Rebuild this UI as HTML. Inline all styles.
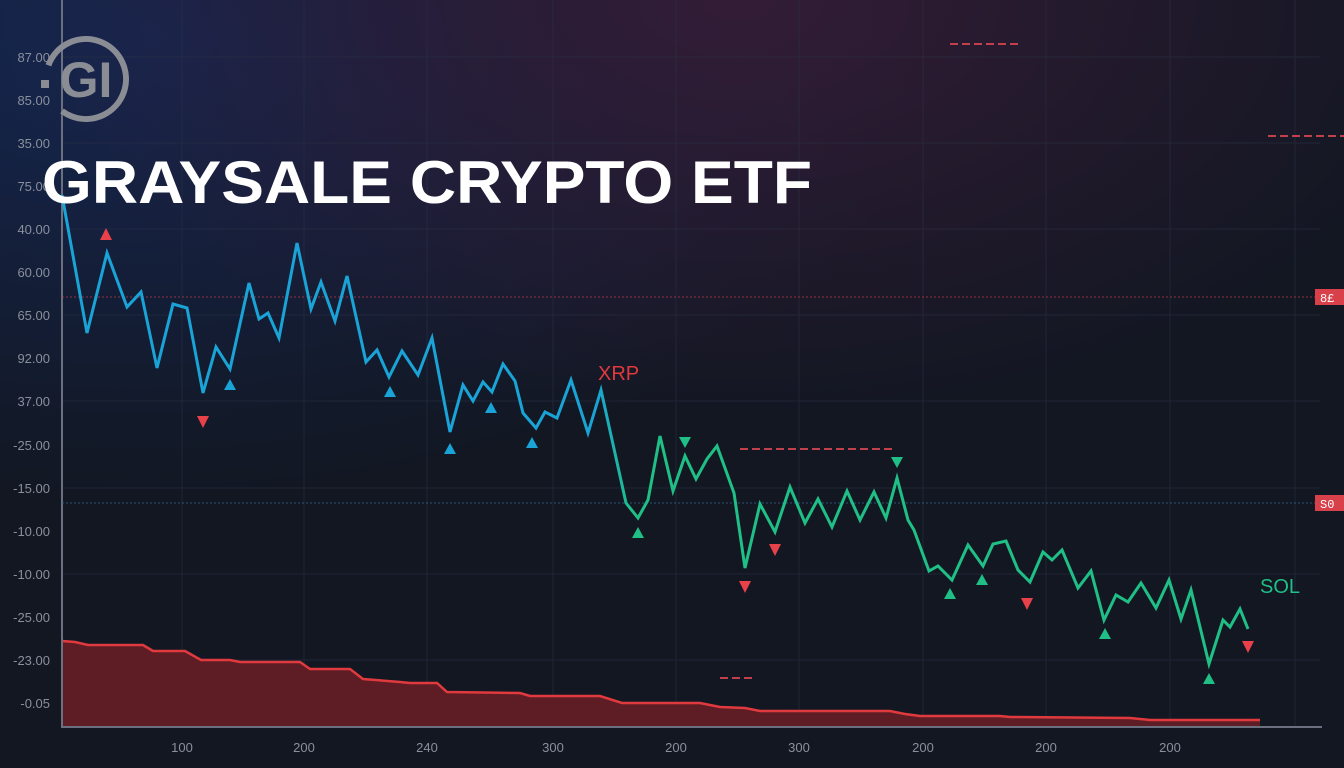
<!DOCTYPE html>
<html><head><meta charset="utf-8"><style>
html,body{margin:0;padding:0;width:1344px;height:768px;overflow:hidden;background:#121722}
svg{display:block}
</style></head><body>
<svg width="1344" height="768" viewBox="0 0 1344 768" xmlns="http://www.w3.org/2000/svg">
<defs>
<radialGradient id="g1" cx="0.1" cy="0.05" r="0.6"><stop offset="0" stop-color="#152650"/><stop offset="1" stop-color="#152650" stop-opacity="0"/></radialGradient>
<radialGradient id="g2" cx="0.55" cy="0.0" r="0.55"><stop offset="0" stop-color="#331c36"/><stop offset="1" stop-color="#331c36" stop-opacity="0"/></radialGradient>
<linearGradient id="bl" x1="0" y1="0" x2="1" y2="0"><stop offset="0.45" stop-color="#1aa3d6"/><stop offset="0.48" stop-color="#1fbf86"/></linearGradient>
</defs>
<rect width="1344" height="768" fill="#121722"/>
<rect width="1344" height="768" fill="url(#g1)"/>
<rect width="1344" height="768" fill="url(#g2)"/>
<g stroke="#2a3245" stroke-width="1" opacity="0.55">
<line x1="62" y1="57" x2="1320" y2="57"/><line x1="62" y1="143" x2="1320" y2="143"/><line x1="62" y1="229" x2="1320" y2="229"/><line x1="62" y1="315" x2="1320" y2="315"/><line x1="62" y1="401" x2="1320" y2="401"/><line x1="62" y1="488" x2="1320" y2="488"/><line x1="62" y1="574" x2="1320" y2="574"/><line x1="62" y1="660" x2="1320" y2="660"/>
<line x1="182" y1="0" x2="182" y2="727"/><line x1="304" y1="0" x2="304" y2="727"/><line x1="427" y1="0" x2="427" y2="727"/><line x1="553" y1="0" x2="553" y2="727"/><line x1="676" y1="0" x2="676" y2="727"/><line x1="799" y1="0" x2="799" y2="727"/><line x1="923" y1="0" x2="923" y2="727"/><line x1="1046" y1="0" x2="1046" y2="727"/><line x1="1170" y1="0" x2="1170" y2="727"/><line x1="1295" y1="0" x2="1295" y2="727"/>
</g>
<polygon fill="#5e1c24" points="62,727 62,641 75,642 88,645 143,645 153,651 185,651 201,660 230,660 240,662 300,662 310,669 350,669 363,679 400,682 410,683 437,683 447,692 520,693 530,696 600,696 622,703 700,703 720,707 745,708 760,711 890,711 905,714 920,716 1000,716 1010,717 1130,718 1150,720 1260,720 1260,727"/>
<polyline fill="none" stroke="#e03a3e" stroke-width="2.5" points="62,641 75,642 88,645 143,645 153,651 185,651 201,660 230,660 240,662 300,662 310,669 350,669 363,679 400,682 410,683 437,683 447,692 520,693 530,696 600,696 622,703 700,703 720,707 745,708 760,711 890,711 905,714 920,716 1000,716 1010,717 1130,718 1150,720 1260,720"/>
<g stroke="#6b7080" stroke-width="2"><line x1="62" y1="0" x2="62" y2="728"/><line x1="62" y1="727" x2="1322" y2="727"/></g>
<g font-family="Liberation Sans, sans-serif" font-size="13" fill="#8a8f9c" text-anchor="end">
<text x="50" y="62">87.00</text><text x="50" y="105">85.00</text><text x="50" y="148">35.00</text><text x="50" y="191">75.00</text><text x="50" y="234">40.00</text><text x="50" y="277">60.00</text><text x="50" y="320">65.00</text><text x="50" y="363">92.00</text><text x="50" y="406">37.00</text><text x="50" y="450">-25.00</text><text x="50" y="493">-15.00</text><text x="50" y="536">-10.00</text><text x="50" y="579">-10.00</text><text x="50" y="622">-25.00</text><text x="50" y="665">-23.00</text><text x="50" y="708">-0.05</text>
</g>
<g font-family="Liberation Sans, sans-serif" font-size="13" fill="#8a8f9c" text-anchor="middle">
<text x="182" y="752">100</text><text x="304" y="752">200</text><text x="427" y="752">240</text><text x="553" y="752">300</text><text x="676" y="752">200</text><text x="799" y="752">300</text><text x="923" y="752">200</text><text x="1046" y="752">200</text><text x="1170" y="752">200</text>
</g>
<line x1="62" y1="297" x2="1315" y2="297" stroke="#b0384a" stroke-width="1" stroke-dasharray="2,2" opacity="0.8"/>
<line x1="62" y1="503" x2="1315" y2="503" stroke="#2f5a80" stroke-width="1" stroke-dasharray="2,2" opacity="0.9"/>
<rect x="1315" y="289" width="29" height="16" fill="#d8404a"/><text x="1320" y="302" font-family="Liberation Mono, monospace" font-size="12" fill="#fff">8£</text>
<rect x="1315" y="495" width="29" height="16" fill="#d8404a"/><text x="1320" y="508" font-family="Liberation Mono, monospace" font-size="12" fill="#fff">S0</text>
<g stroke="#c0404c" stroke-width="2" stroke-dasharray="8,4"><line x1="950" y1="44" x2="1020" y2="44"/><line x1="1268" y1="136" x2="1344" y2="136"/><line x1="740" y1="449" x2="895" y2="449"/><line x1="720" y1="678" x2="755" y2="678"/></g>
<polyline fill="none" stroke="url(#bl)" stroke-width="3" stroke-linejoin="miter" points="62,195 87,333 107,253 127,307 141,292 157,368 173,304 187,308 203,393 216,347 230,369 249,283 259,319 268,313 279,338 297,243 311,309 321,282 335,321 347,276 366,362 377,350 389,377 402,351 418,375 432,338 450,432 463,385 473,401 483,382 492,392 503,364 515,381 523,413 536,428 545,412 557,418 571,380 588,433 601,390 626,503 638,518 648,500 660,436 673,491 685,456 696,479 707,459 717,446 734,493 745,568 760,504 775,532 790,487 805,523 818,499 832,527 847,491 860,520 874,492 886,518 897,478 908,520 914,530 929,571 938,566 952,580 968,545 983,566 993,544 1006,541 1018,570 1030,582 1043,552 1052,560 1062,550 1078,588 1091,571 1104,620 1116,595 1128,602 1141,583 1156,608 1169,580 1181,619 1191,590 1209,664 1223,620 1230,627 1240,609 1248,629"/>
<g fill="#e8414a"><path d="M100,240 L106,228 L112,240Z"/><path d="M197,416 L203,428 L209,416Z"/><path d="M739,581 L745,593 L751,581Z"/><path d="M769,544 L775,556 L781,544Z"/><path d="M1021,598 L1027,610 L1033,598Z"/><path d="M1242,641 L1248,653 L1254,641Z"/></g>
<g fill="#1aa3d6"><path d="M224,390 L230,379 L236,390Z"/><path d="M384,397 L390,386 L396,397Z"/><path d="M444,454 L450,443 L456,454Z"/><path d="M485,413 L491,402 L497,413Z"/><path d="M526,448 L532,437 L538,448Z"/></g>
<g fill="#1fbf86"><path d="M632,538 L638,527 L644,538Z"/><path d="M944,599 L950,588 L956,599Z"/><path d="M976,585 L982,574 L988,585Z"/><path d="M1099,639 L1105,628 L1111,639Z"/><path d="M1203,684 L1209,673 L1215,684Z"/><path d="M679,437 L685,448 L691,437Z"/><path d="M891,457 L897,468 L903,457Z"/></g>
<text x="598" y="380" font-family="Liberation Sans, sans-serif" font-size="20" fill="#e03a3e">XRP</text>
<text x="1260" y="593" font-family="Liberation Sans, sans-serif" font-size="20" fill="#1fbf86">SOL</text>
<circle cx="86" cy="79" r="40" fill="none" stroke="#8a8d94" stroke-width="6" stroke-dasharray="200,51" transform="rotate(200 86 79)"/>
<text x="86" y="97" text-anchor="middle" font-family="Liberation Sans, sans-serif" font-weight="bold" font-size="50" fill="#8a8d94">GI</text>
<rect x="41" y="80" width="8" height="8" fill="#8a8d94"/>
<text x="42" y="203" font-family="Liberation Sans, sans-serif" font-weight="bold" font-size="60" fill="#fff" textLength="770" lengthAdjust="spacingAndGlyphs">GRAYSALE CRYPTO ETF</text>
</svg>
</body></html>
